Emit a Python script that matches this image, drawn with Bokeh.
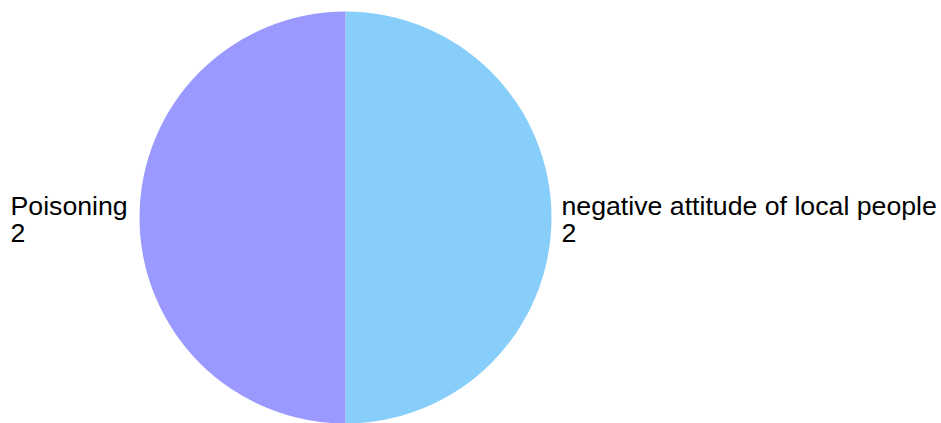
import math
from bokeh.plotting import figure
from bokeh.models import Range1d, ColumnDataSource
from bokeh.core.properties import value
from bokeh.embed import file_html
from bokeh.resources import INLINE

categories = ["negative attitude of local people", "Poisoning"]
values = [2, 2]
colors = ["#87CEFA", "#9999FF"]

W, H = 941, 423
p = figure(width=W, height=H, output_backend="svg", toolbar_location=None,
           x_range=Range1d(0, W), y_range=Range1d(0, H), min_border=0)
p.axis.visible = False
p.grid.visible = False
p.outline_line_color = None

cx, cy, r = 345, H - 217, 206
total = sum(values)
starts, ends, mids = [], [], []
cum = 0.0
for v in values:
    a0 = math.pi / 2 - 2 * math.pi * (cum + v) / total
    a1 = math.pi / 2 - 2 * math.pi * cum / total
    starts.append(a0)
    ends.append(a1)
    mids.append((a0 + a1) / 2)
    cum += v

src = ColumnDataSource(dict(start=starts, end=ends, color=colors))
p.wedge(x=cx, y=cy, radius=r, start_angle="start", end_angle="end",
        fill_color="color", line_color=None, source=src)

fs = "26.7px"
for cat, v, m in zip(categories, values, mids):
    if math.cos(m) >= 0:
        lx = cx + r + 10
    else:
        lx = 10
    by = cy + 12
    p.text(x=[lx], y=[by], text=[cat], text_font=value("Liberation Sans"),
           text_font_size=fs, text_color="#000000", text_align="left",
           text_baseline="alphabetic")
    p.text(x=[lx], y=[by - 27], text=[str(v)], text_font=value("Liberation Sans"),
           text_font_size=fs, text_color="#000000", text_align="left",
           text_baseline="alphabetic")

open("out.html", "w").write(file_html(p, INLINE))
